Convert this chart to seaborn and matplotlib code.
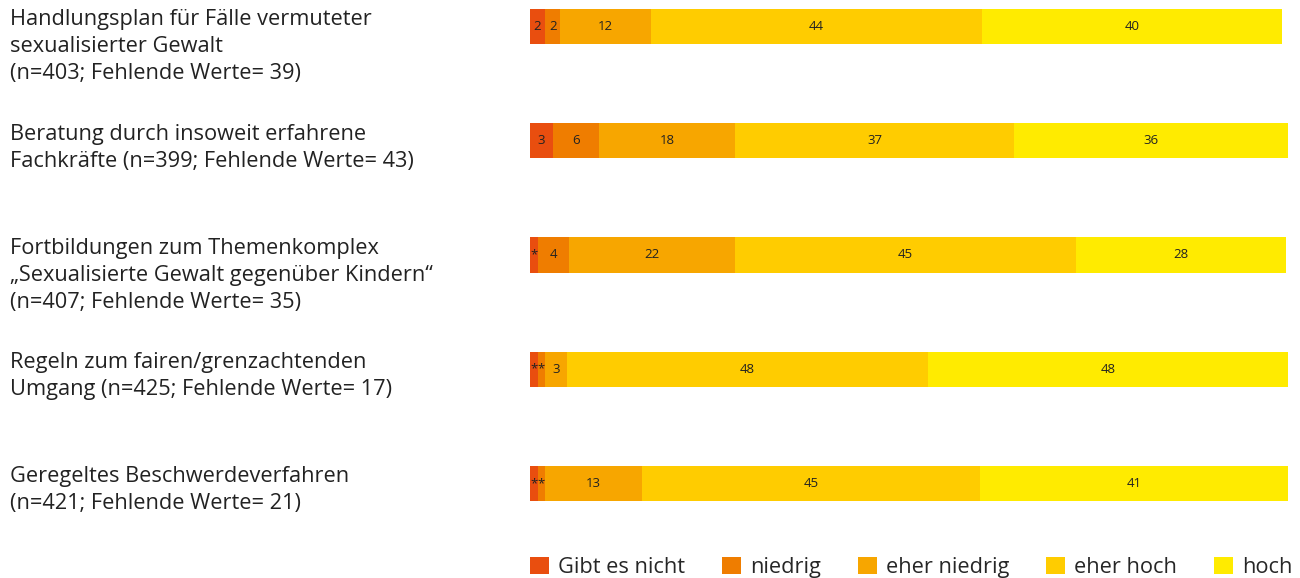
import pandas as pd
import seaborn as sns
import matplotlib.pyplot as plt
from matplotlib.patches import Patch
from matplotlib.transforms import blended_transform_factory


items = [
    "Handlungsplan für Fälle vermuteter\nsexualisierter Gewalt\n(n=403; Fehlende Werte= 39)",
    "Beratung durch insoweit erfahrene\nFachkräfte (n=399; Fehlende Werte= 43)",
    "Fortbildungen zum Themenkomplex\n„Sexualisierte Gewalt gegenüber Kindern“\n(n=407; Fehlende Werte= 35)",
    "Regeln zum fairen/grenzachtenden\nUmgang (n=425; Fehlende Werte= 17)",
    "Geregeltes Beschwerdeverfahren\n(n=421; Fehlende Werte= 21)",
]
levels = ["Gibt es nicht", "niedrig", "eher niedrig", "eher hoch", "hoch"]
colors = ["#E94E0F", "#EF7D00", "#F7A600", "#FFCC00", "#FFEB00"]

gibt_es_nicht = [2.0, 3.0, 1.0, 1.0, 1.0]
niedrig = [2.0, 6.1, 4.1, 1.0, 1.0]
eher_niedrig = [11.9, 17.9, 21.9, 2.9, 12.8]
eher_hoch = [43.7, 36.9, 45.0, 47.6, 44.6]
hoch = [39.6, 36.1, 27.8, 47.5, 40.6]

df = pd.DataFrame({
    "item": items,
    "Gibt es nicht": gibt_es_nicht,
    "niedrig": niedrig,
    "eher niedrig": eher_niedrig,
    "eher hoch": eher_hoch,
    "hoch": hoch,
})

cum = df[levels].cumsum(axis=1)

sns.set_style("white")
plt.rcParams["font.family"] = ["Open Sans", "DejaVu Sans"]

fig = plt.figure(figsize=(13, 5.78), dpi=100)
ax = fig.add_axes([530 / 1300, 1 - 540 / 578, 758 / 1300, 540 / 578])

# stacked bars: draw cumulative totals from the largest down
for lev, col in reversed(list(zip(levels, colors))):
    sns.barplot(x=cum[lev], y=df["item"], color=col, orient="h",
                width=0.31, order=items, saturation=1, linewidth=0, ax=ax)

# value labels
for i in range(len(items)):
    for lev in levels:
        v = df.loc[i, lev]
        center = cum.loc[i, lev] - v / 2
        lab = "*" if v < 1.5 else f"{v:.0f}"
        ax.text(center, i, lab, ha="center", va="center",
                fontsize=9.5, color="#222222")

ax.set_xlim(0, 100)
ax.set_ylim((540 - 26.5) / 114.25, -26.5 / 114.25)
ax.set_yticks([])
ax.set_xticks([])
ax.set_xlabel("")
ax.set_ylabel("")
sns.despine(ax=ax, left=True, bottom=True)

trans = blended_transform_factory(fig.transFigure, ax.transData)
for i, txt in enumerate(items):
    ax.text(10 / 1300, i - 0.15, txt, transform=trans, ha="left", va="top",
            fontsize=15.7, color="#222222", linespacing=1.37)

handles = [Patch(facecolor=c, edgecolor="none") for c in colors]
fig.legend(handles, levels, loc="lower left", bbox_to_anchor=(530 / 1300, 0.0),
           ncol=5, frameon=False, fontsize=15.7, handlelength=0.87, handleheight=0.87,
           handletextpad=0.41, columnspacing=1.7, borderpad=0, borderaxespad=0)

plt.savefig("out.png", dpi=100)
plt.close()
